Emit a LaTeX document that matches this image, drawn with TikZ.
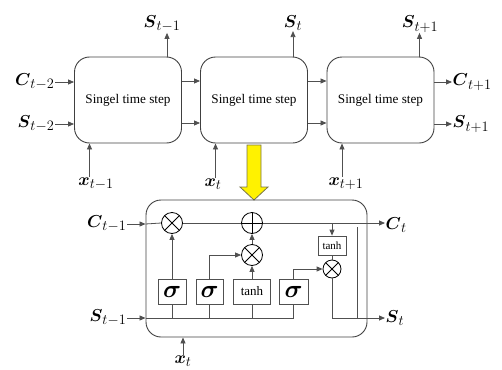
\documentclass[tikz,border=0pt]{standalone}
\usepackage{amsmath}
\usepackage{fontspec}
\setmainfont{Liberation Serif}
\usetikzlibrary{arrows.meta}
\definecolor{linec}{HTML}{505050}
\definecolor{boxc}{HTML}{404040}
\tikzset{
  stepbox/.style={draw=boxc, line width=0.9pt, rounded corners=15pt, minimum width=107pt, minimum height=86pt, inner sep=0pt, font=\fontsize{13.2}{15}\selectfont},
  arr/.style={draw=linec, line width=0.8pt, -{Triangle[length=6pt,width=5pt]}},
  ln/.style={draw=linec, line width=0.8pt},
  lab/.style={font=\fontsize{19}{21}\selectfont, inner sep=0.5pt},
  op/.style={circle, draw=black, line width=0.8pt, minimum size=21pt, inner sep=0pt},
  mult/.style={op, path picture={\draw[black, line width=0.8pt] (path picture bounding box.north west) -- (path picture bounding box.south east) (path picture bounding box.north east) -- (path picture bounding box.south west);}},
  plus/.style={op, path picture={\draw[black, line width=0.8pt] (path picture bounding box.north) -- (path picture bounding box.south) (path picture bounding box.west) -- (path picture bounding box.east);}},
  gate/.style={draw=linec, line width=0.8pt, minimum height=25pt, inner sep=0pt},
  sig/.style={gate, font=\fontsize{28}{28}\selectfont},
}
\begin{document}
\begin{tikzpicture}[x=1pt,y=-1pt]
\useasboundingbox (0,0) rectangle (502,369);

% top chain
\node[stepbox] (b1) at (128,100) {Singel time step};
\node[stepbox] (b2) at (254,100) {Singel time step};
\node[stepbox] (b3) at (380.5,100) {Singel time step};

\node[lab, anchor=east] (lc2) at (55,82) {$\boldsymbol{C}_{t-2}$};
\node[lab, anchor=east] (ls2) at (55,124) {$\boldsymbol{S}_{t-2}$};
\draw[arr] (lc2.east) -- (lc2.east -| b1.west);
\draw[arr] (ls2.east) -- (ls2.east -| b1.west);

\draw[arr] ([yshift=19pt]b1.east) -- ([yshift=19pt]b2.west);
\draw[arr] ([yshift=-23pt]b1.east) -- ([yshift=-23pt]b2.west);
\draw[arr] ([yshift=19pt]b2.east) -- ([yshift=19pt]b3.west);
\draw[arr] ([yshift=-23pt]b2.east) -- ([yshift=-23pt]b3.west);

\node[lab, anchor=west] (lcp) at (452,82) {$\boldsymbol{C}_{t+1}$};
\node[lab, anchor=west] (lsp) at (452,124) {$\boldsymbol{S}_{t+1}$};
\draw[arr] (lcp.west -| b3.east) -- (lcp.west);
\draw[arr] (lsp.west -| b3.east) -- (lsp.west);

\node[lab] (ls1) at (162,24) {$\boldsymbol{S}_{t-1}$};
\node[lab] (lst) at (293,23) {$\boldsymbol{S}_{t}$};
\node[lab] (lsn) at (420,24) {$\boldsymbol{S}_{t+1}$};
\coordinate (o1) at ([xshift=39pt]b1.north);
\coordinate (o2) at ([xshift=39pt]b2.north);
\coordinate (o3) at ([xshift=39pt]b3.north);
\draw[arr] (o1) -- (o1 |- ls1.south);
\draw[arr] (o2) -- (o2 |- lst.south);
\draw[arr] (o3) -- (o3 |- lsn.south);

\node[lab] (lx1) at (96,184) {$\boldsymbol{x}_{t-1}$};
\node[lab] (lx2) at (213,184) {$\boldsymbol{x}_{t}$};
\node[lab] (lx3) at (346,184) {$\boldsymbol{x}_{t+1}$};
\coordinate (i1) at ([xshift=-38.5pt]b1.south);
\coordinate (i2) at ([xshift=-38.5pt]b2.south);
\coordinate (i3) at ([xshift=-38.5pt]b3.south);
\draw[arr] (i1 |- lx1.north) -- (i1);
\draw[arr] (i2 |- lx2.north) -- (i2);
\draw[arr] (i3 |- lx3.north) -- (i3);

% yellow arrow
\draw[draw=black!60!yellow, fill=yellow, line width=0.8pt]
  (247,145) -- (261,145) -- (261,187) -- (268,187) -- (254,200) -- (240,187) -- (247,187) -- cycle;

% cell
\node[draw=boxc, line width=0.9pt, rounded corners=15pt, minimum width=221pt, minimum height=137pt] (cell) at (256.5,268.5) {};

\node[mult] (m1) at (172,223) {};
\node[plus] (p1) at (252,223) {};
\node[mult] (m2) at (252,255) {};
\node[sig, minimum width=28pt] (s1) at (172,291.5) {$\boldsymbol{\sigma}$};
\node[sig, minimum width=27pt] (s2) at (209.5,291.5) {$\boldsymbol{\sigma}$};
\node[gate, minimum width=37pt, font=\fontsize{13}{15}\selectfont] (t1) at (252,291.5) {tanh};
\node[sig, minimum width=29pt] (s4) at (293.5,291.5) {$\boldsymbol{\sigma}$};
\node[gate, minimum width=28pt, minimum height=19pt, font=\fontsize{11}{12}\selectfont] (t2) at (332,245.5) {tanh};
\node[mult, minimum size=18pt] (m3) at (332,269) {};

\node[lab, anchor=east] (lcin) at (127,224) {$\boldsymbol{C}_{t-1}$};
\node[lab, anchor=east] (lsin) at (127,318) {$\boldsymbol{S}_{t-1}$};
\node[lab, anchor=west] (lcout) at (385,225) {$\boldsymbol{C}_{t}$};
\node[lab, anchor=west] (lsout) at (385,318) {$\boldsymbol{S}_{t}$};
\node[lab, anchor=north] (lxt) at (183,355) {$\boldsymbol{x}_{t}$};

\coordinate (cl) at (lcin.east -| cell.west);
\draw[arr] (lcin.east) -- (cl);
\draw[ln] (cl) -- (m1.west);
\draw[ln] (m1.east) -- (p1.west);
\draw[arr] (p1.east) -- (p1.east -| lcout.west);
\coordinate (tapc) at (t2.north |- p1.center);
\draw[arr] (tapc) -- (t2.north);
\draw[arr] (m2.north) -- (p1.south);
\draw[arr] (s1.north) -- (m1.south);
\draw[arr] (s2.north) |- (m2.west);
\draw[arr] (t1.north) -- (m2.south);
\draw[arr] (s4.north) |- (m3.west);
\draw[ln] (t2.south) -- (m3.north);
\draw[arr] (m3.south) |- (lsout.west);

\coordinate (sl) at (lsin.east -| cell.west);
\draw[arr] (lsin.east) -- (sl);
\draw[ln] (sl) -- (sl -| s4.south);
\draw[ln] (sl -| s1.south) -- (s1.south);
\draw[ln] (sl -| s2.south) -- (s2.south);
\draw[ln] (sl -| t1.south) -- (t1.south);
\draw[ln] (sl -| s4.south) -- (s4.south);
\coordinate (vtop) at (357,227);
\draw[ln] (vtop) -- (vtop |- lsout.west);

\draw[arr] (lxt.north) -- (lxt.north |- cell.south);
\end{tikzpicture}
\end{document}
